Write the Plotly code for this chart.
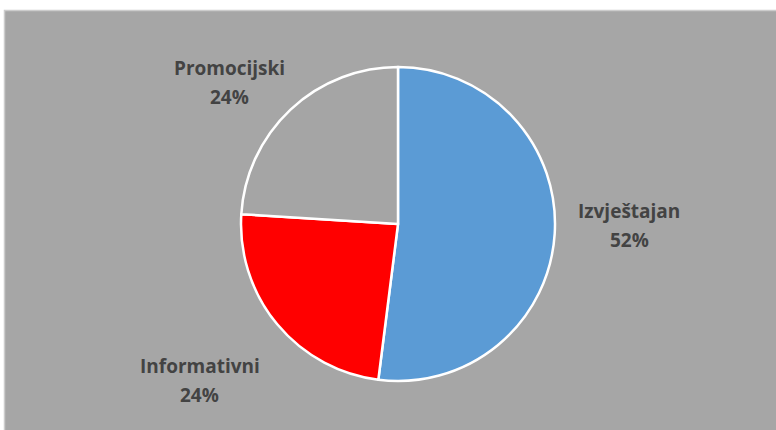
import plotly.graph_objects as go

# Share of content types
categories = ["Izvještajan", "Informativni", "Promocijski"]
values = [52, 24, 24]
colors = ["#5b9bd5", "#ff0000", "#a5a5a5"]

W, H = 776, 430
cx, cy, r = 398, 224, 157

fig = go.Figure(
    go.Pie(
        labels=categories,
        values=values,
        sort=False,
        direction="clockwise",
        rotation=0,
        marker=dict(colors=colors, line=dict(color="white", width=2.5)),
        textinfo="none",
        hoverinfo="label+percent",
        domain=dict(x=[(cx - r) / W, (cx + r) / W], y=[1 - (cy + r) / H, 1 - (cy - r) / H]),
        showlegend=False,
    )
)

# Outside labels: category name on one line, percentage below it
label_pos = {
    "Izvještajan": (629, 211),
    "Informativni": (200, 366),
    "Promocijski": (229, 68),
}
line_gap = 29
label_font = dict(family="Open Sans, sans-serif", size=19, color="#434343")
total = sum(values)
annotations = []
for name, v in zip(categories, values):
    x, y = label_pos[name]
    for text, yy in ((name, y), (f"{round(100 * v / total)}%", y + line_gap)):
        annotations.append(
            dict(
                x=x / W, y=1 - yy / H, xref="paper", yref="paper",
                xanchor="center", yanchor="middle",
                text=f"<b>{text}</b>", showarrow=False,
                font=label_font,
            )
        )

fig.update_layout(
    width=W, height=H,
    margin=dict(l=0, r=0, t=0, b=0),
    paper_bgcolor="white",
    plot_bgcolor="white",
    shapes=[
        dict(
            type="rect", xref="paper", yref="paper",
            x0=4.5 / W, x1=1.01, y0=-0.01, y1=1 - 10.5 / H,
            fillcolor="#a6a6a6", line=dict(color="#cccccc", width=1.5),
            layer="below",
        )
    ],
    annotations=annotations,
)

fig.write_html("out.html")
